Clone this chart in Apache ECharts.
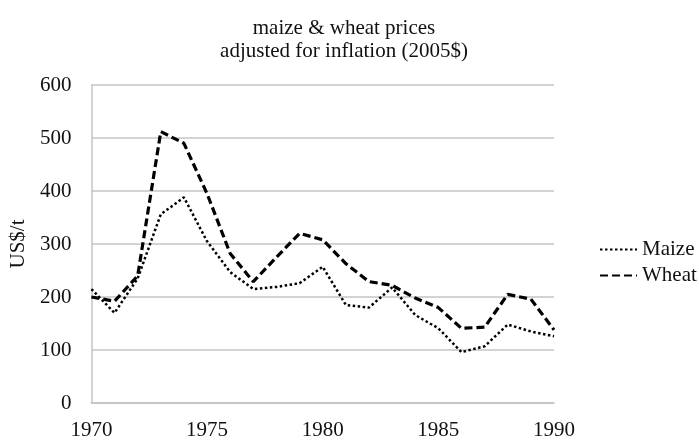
<!DOCTYPE html>
<html>
<head>
<meta charset="utf-8">
<script src="https://cdn.jsdelivr.net/npm/echarts@6/dist/echarts.min.js"></script>
<style>
  html, body { margin: 0; padding: 0; background: #fff; }
  #chart { width: 699px; height: 441px; }
</style>
</head>
<body>
<div id="chart"></div>
<script>
// years on the x axis
var years = [];
for (var y = 1970; y <= 1990; y++) years.push(String(y));

// prices, US$/t (2005$)
var maize = [215, 170, 235, 356, 388, 305, 247, 215, 219, 226, 257, 185, 180, 218, 166, 141, 96, 107, 148, 135, 126];
var wheat = [200, 192, 240, 512, 490, 395, 282, 229, 275, 320, 308, 263, 229, 222, 198, 180, 141, 143, 205, 196, 138];

var yTicks = [0, 100, 200, 300, 400, 500, 600];

var font = "'Liberation Serif', 'Times New Roman', serif";
var grey = "#c4c4c4";

var chart = echarts.init(document.getElementById("chart"));
chart.setOption({
    animation: false,
    backgroundColor: "#fff",
    title: {
        text: "maize & wheat prices\nadjusted for inflation (2005$)",
        left: 339,
        textAlign: "center",
        top: 12,
        textStyle: {
            fontFamily: font,
            fontSize: 21,
            fontWeight: "normal",
            lineHeight: 23,
            color: "#111"
        }
    },
    legend: {
        orient: "vertical",
        left: 594,
        top: 234,
        itemWidth: 37,
        itemHeight: 20,
        itemGap: 5,
        itemStyle: { color: "transparent", borderWidth: 0 },
        textStyle: { fontFamily: font, fontSize: 21, color: "#111" },
        data: ["Maize", "Wheat"]
    },
    grid: { left: 91, right: 145, top: 85, bottom: 35 },
    xAxis: {
        type: "category",
        data: years,
        boundaryGap: false,
        axisLine: { lineStyle: { color: grey, width: 1.5 } },
        axisTick: { show: false },
        axisLabel: {
            interval: 4,
            margin: 17,
            fontFamily: font,
            fontSize: 21,
            color: "#111"
        },
        splitLine: { show: false }
    },
    yAxis: {
        type: "value",
        min: yTicks[0],
        max: yTicks[yTicks.length - 1],
        interval: 100,
        name: "US$/t",
        nameLocation: "middle",
        nameGap: 58,
        nameTextStyle: { fontFamily: font, fontSize: 21, color: "#111" },
        axisLine: { show: true, lineStyle: { color: grey, width: 1.5 } },
        axisTick: { show: false },
        axisLabel: { margin: 20, fontFamily: font, fontSize: 21, color: "#111" },
        splitLine: { lineStyle: { color: grey, width: 1.5 } }
    },
    series: [
        {
            name: "Maize",
            type: "line",
            data: maize,
            symbol: "none",
            lineStyle: { color: "#000", width: 2.5, type: [2.5, 2.5] },
            itemStyle: { color: "#000" }
        },
        {
            name: "Wheat",
            type: "line",
            data: wheat,
            symbol: "none",
            lineStyle: { color: "#000", width: 3.2, type: [8, 4] },
            itemStyle: { color: "#000" }
        }
    ]
});
</script>
</body>
</html>
